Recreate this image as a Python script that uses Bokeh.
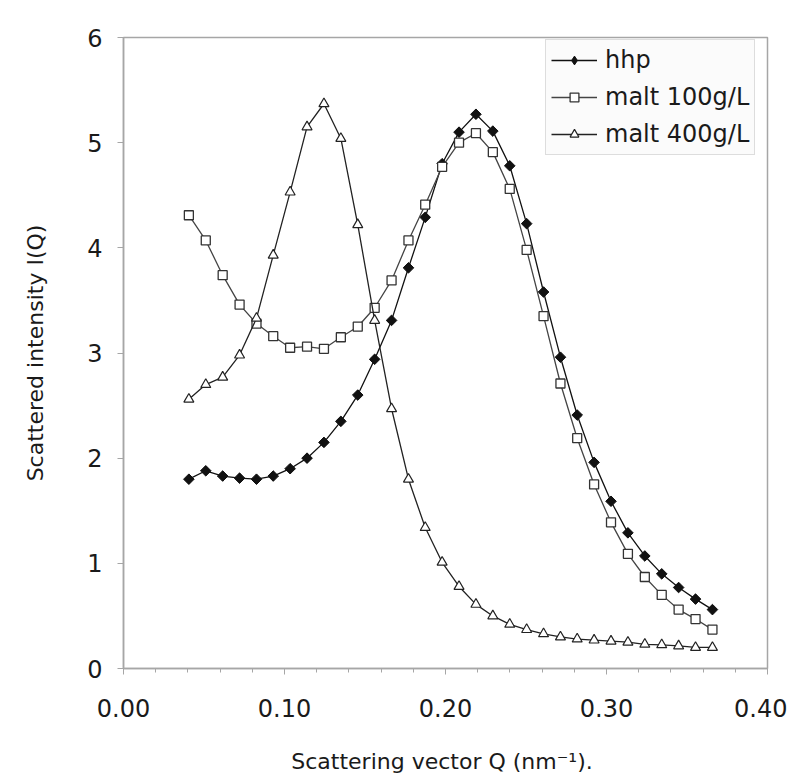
import numpy as np
from bokeh.plotting import figure
from bokeh.models import Range1d, FixedTicker, NumeralTickFormatter, Legend, LegendItem, ColumnDataSource
from bokeh.embed import file_html
from bokeh.resources import INLINE

# ---- data ----
q = [0.0406, 0.0511, 0.0616, 0.0721, 0.0826, 0.0930, 0.1035, 0.1140,
     0.1245, 0.1350, 0.1455, 0.1560, 0.1665, 0.1770, 0.1874, 0.1979,
     0.2084, 0.2189, 0.2294, 0.2399, 0.2504, 0.2609, 0.2714, 0.2818,
     0.2923, 0.3028, 0.3133, 0.3238, 0.3343, 0.3448, 0.3553, 0.3658]

hhp = [1.80, 1.88, 1.83, 1.81, 1.80, 1.83, 1.90, 2.00,
       2.15, 2.35, 2.60, 2.94, 3.31, 3.81, 4.29, 4.80,
       5.10, 5.27, 5.11, 4.78, 4.23, 3.58, 2.96, 2.41,
       1.96, 1.59, 1.29, 1.07, 0.90, 0.77, 0.66, 0.56]

malt100 = [4.31, 4.07, 3.74, 3.46, 3.28, 3.16, 3.05, 3.06,
           3.04, 3.15, 3.25, 3.43, 3.69, 4.07, 4.41, 4.77,
           5.00, 5.09, 4.91, 4.56, 3.98, 3.35, 2.71, 2.19,
           1.75, 1.39, 1.09, 0.87, 0.70, 0.56, 0.47, 0.37]

malt400 = [2.56, 2.70, 2.77, 2.98, 3.33, 3.93, 4.53, 5.15,
           5.37, 5.04, 4.22, 3.31, 2.47, 1.80, 1.34, 1.01,
           0.78, 0.61, 0.50, 0.42, 0.37, 0.33, 0.30, 0.28,
           0.27, 0.26, 0.25, 0.23, 0.225, 0.215, 0.20, 0.20]

series_names = ["hhp", "malt 100g/L", "malt 400g/L"]
x_ticks = [0.0, 0.1, 0.2, 0.3, 0.4]
x_minor_ticks = [0.02, 0.04, 0.06, 0.08, 0.12, 0.14, 0.16, 0.18,
                 0.22, 0.24, 0.26, 0.28, 0.32, 0.34, 0.36, 0.38]
y_ticks = [0, 1, 2, 3, 4, 5, 6]

FONT = "DejaVu Sans"
GRAY = "#a6a6a6"

p = figure(width=787, height=776, output_backend="svg", toolbar_location=None,
           x_range=Range1d(0, 0.4), y_range=Range1d(0, 6),
           min_border_left=123, min_border_right=20, min_border_top=37, min_border_bottom=108)
p.background_fill_color = "white"
p.border_fill_color = "white"
p.outline_line_color = GRAY
p.outline_line_width = 1.5
p.grid.visible = False

p.xaxis.ticker = FixedTicker(ticks=x_ticks, minor_ticks=x_minor_ticks)
p.yaxis.ticker = FixedTicker(ticks=y_ticks)
p.xaxis.formatter = NumeralTickFormatter(format="0.00")
p.yaxis.formatter = NumeralTickFormatter(format="0")

for ax in (p.xaxis, p.yaxis):
    ax.axis_line_color = GRAY
    ax.axis_line_width = 1.5
    ax.major_tick_line_color = GRAY
    ax.minor_tick_line_color = GRAY
    ax.major_tick_in = 0
    ax.major_tick_out = 6
    ax.minor_tick_in = 0
    ax.minor_tick_out = 4
    ax.major_label_text_font = FONT
    ax.major_label_text_font_size = "24px"
    ax.major_label_text_color = "#1a1a1a"
    ax.axis_label_text_font = FONT
    ax.axis_label_text_font_size = "22px"
    ax.axis_label_text_font_style = "normal"
    ax.axis_label_text_color = "#1a1a1a"

p.yaxis.minor_tick_line_color = None
p.xaxis.major_label_standoff = 24
p.yaxis.major_label_standoff = 15
p.xaxis.axis_label = "Scattering vector Q  (nm\u207b\u00b9)."
p.yaxis.axis_label = "Scattered intensity I(Q)"
p.xaxis.axis_label_standoff = 29
p.yaxis.axis_label_standoff = 36

src = ColumnDataSource(dict(q=q, hhp=hhp, m100=malt100, m400=malt400))

l1 = p.line("q", "hhp", source=src, line_color="#111111", line_width=1.3)
# diamond renderer used for the legend symbol; fully covered by the rotated squares below
k1 = p.scatter("q", "hhp", source=src, marker="diamond", size=9,
               fill_color="#111111", line_color="#111111")
s1 = p.scatter("q", "hhp", source=src, marker="square", angle=np.pi / 4, size=7.5,
               fill_color="#111111", line_color="#111111")
l2 = p.line("q", "m100", source=src, line_color="#444444", line_width=1.3)
s2 = p.scatter("q", "m100", source=src, marker="square", size=9,
               fill_color="white", line_color="#333333", line_width=1.3)
l3 = p.line("q", "m400", source=src, line_color="#222222", line_width=1.3)
s3 = p.scatter("q", "m400", source=src, marker="triangle", size=10,
               fill_color="white", line_color="#222222", line_width=1.2)

legend = Legend(items=[LegendItem(label=series_names[0], renderers=[l1, k1]),
                       LegendItem(label=series_names[1], renderers=[l2, s2]),
                       LegendItem(label=series_names[2], renderers=[l3, s3])],
                location=(422, 513))
legend.padding = 5
legend.spacing = 7
legend.glyph_width = 46
legend.glyph_height = 22
legend.label_height = 30
legend.label_standoff = 8
legend.label_text_font = FONT
legend.label_text_font_size = "24px"
legend.label_text_color = "#1a1a1a"
legend.border_line_color = "#c0c0c0"
legend.border_line_width = 1
legend.background_fill_color = "#fbfbfb"
legend.background_fill_alpha = 1.0
p.add_layout(legend)

open("out.html", "w").write(file_html(p, INLINE))
